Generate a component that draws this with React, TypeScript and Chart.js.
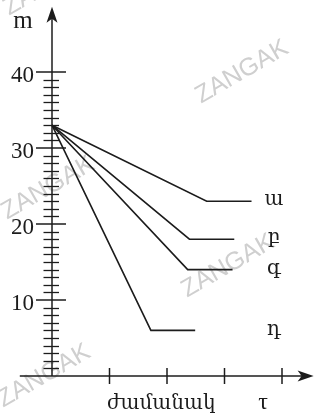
import React, { useEffect, useRef } from "react";
import { Chart, registerables } from "chart.js";

Chart.register(...registerables);

// ---- data ----
const seriesLabels = ["ա", "բ", "գ", "դ"];
const startMass = 33;
const breakTimes = [2.69, 2.39, 2.36, 1.72];
const endTimes = [3.47, 3.17, 3.14, 2.49];
const plateauMass = [23, 18, 14, 6];

const yMajorTicks = [10, 20, 30, 40];
const yMinorTicks = [
  1, 2, 3, 4, 5, 6, 7, 8, 9, 11, 12, 13, 14, 15, 16, 17, 18, 19, 21, 22, 23, 24, 25, 26, 27, 28, 29,
  31, 32, 33, 34, 35, 36, 37, 38, 39,
];
const xTicks = [1, 2, 3, 4];
const yAxisTitle = "m";
const xAxisTitle = "ժամանակ";
const xAxisSymbol = "τ";
const watermarkText = "ZANGAK";

const SERIF = '"Liberation Serif", "DejaVu Serif", serif';
const INK = "#1c1c1c";

export default function App() {
  const ref = useRef<HTMLCanvasElement | null>(null);

  useEffect(() => {
    const canvas = ref.current;
    if (!canvas) return;

    const datasets = seriesLabels.map((lab, i) => ({
      label: lab,
      data: [
        { x: 0, y: startMass },
        { x: breakTimes[i], y: plateauMass[i] },
        { x: endTimes[i], y: plateauMass[i] },
      ],
      borderColor: INK,
      borderWidth: 1.6,
      pointRadius: 0,
      tension: 0,
      fill: false,
    }));

    const decor = {
      id: "decor",
      beforeDraw(chart: any) {
        const ctx = chart.ctx;
        ctx.save();
        ctx.fillStyle = "#ffffff";
        ctx.fillRect(0, 0, chart.width, chart.height);
        // watermarks
        ctx.fillStyle = "#cfcfcf";
        ctx.font = '25px "Liberation Sans", Arial, sans-serif';
        ctx.textAlign = "center";
        ctx.textBaseline = "middle";
        const marks = [
          [50, -16],
          [242, 72],
          [48, 188],
          [228, 266],
          [44, 376],
        ];
        for (const [cx, cy] of marks) {
          ctx.save();
          ctx.translate(cx, cy);
          ctx.rotate(-Math.PI / 6);
          ctx.fillText(watermarkText, 0, 0);
          ctx.restore();
        }
        ctx.restore();
      },
      beforeDatasetsDraw(chart: any) {
        const ctx = chart.ctx;
        const xs = chart.scales.x;
        const ys = chart.scales.y;
        const x0 = xs.getPixelForValue(0);
        const y0 = ys.getPixelForValue(0);
        ctx.save();
        ctx.strokeStyle = INK;
        ctx.fillStyle = INK;
        ctx.lineWidth = 1.5;
        // y axis
        const yTip = ys.getPixelForValue(48.6);
        ctx.beginPath();
        ctx.moveTo(x0, y0);
        ctx.lineTo(x0, yTip + 10);
        ctx.stroke();
        ctx.beginPath();
        ctx.moveTo(x0, yTip);
        ctx.lineTo(x0 - 5.5, yTip + 16);
        ctx.lineTo(x0, yTip + 12);
        ctx.lineTo(x0 + 5.5, yTip + 16);
        ctx.closePath();
        ctx.fill();
        // x axis
        const xStart = xs.getPixelForValue(-0.56);
        const xTip = xs.getPixelForValue(4.55);
        ctx.beginPath();
        ctx.moveTo(xStart, y0);
        ctx.lineTo(xTip - 10, y0);
        ctx.stroke();
        ctx.beginPath();
        ctx.moveTo(xTip, y0);
        ctx.lineTo(xTip - 16, y0 - 5.5);
        ctx.lineTo(xTip - 12, y0);
        ctx.lineTo(xTip - 16, y0 + 5.5);
        ctx.closePath();
        ctx.fill();
        // y ticks
        ctx.lineWidth = 1.3;
        for (const v of yMinorTicks) {
          const p = Math.round(ys.getPixelForValue(v)) + 0.5;
          ctx.beginPath();
          ctx.moveTo(x0 - 8.5, p);
          ctx.lineTo(x0 + 7, p);
          ctx.stroke();
        }
        ctx.lineWidth = 1.5;
        for (const v of yMajorTicks) {
          const p = ys.getPixelForValue(v);
          ctx.beginPath();
          ctx.moveTo(x0 - 16, p);
          ctx.lineTo(x0 + 14, p);
          ctx.stroke();
        }
        // x ticks
        for (const v of xTicks) {
          const p = xs.getPixelForValue(v);
          ctx.beginPath();
          ctx.moveTo(p, y0 - 8);
          ctx.lineTo(p, y0 + 8);
          ctx.stroke();
        }
        // tick labels
        ctx.font = "23px " + SERIF;
        ctx.textAlign = "right";
        ctx.textBaseline = "middle";
        for (const v of yMajorTicks) {
          const p = ys.getPixelForValue(v);
          ctx.fillText(String(v), x0 - 18, p + 4);
        }
        // axis titles
        ctx.textAlign = "center";
        ctx.textBaseline = "alphabetic";
        ctx.font = "25px " + SERIF;
        ctx.fillText(yAxisTitle, x0 - 29, ys.getPixelForValue(45.8));
        ctx.font = "20px " + SERIF;
        ctx.fillText(xAxisTitle, xs.getPixelForValue(1.9), y0 + 33);
        ctx.font = "24px " + SERIF;
        ctx.fillText(xAxisSymbol, xs.getPixelForValue(3.67), y0 + 33);
        ctx.restore();
      },
      afterDatasetsDraw(chart: any) {
        const ctx = chart.ctx;
        const xs = chart.scales.x;
        const ys = chart.scales.y;
        ctx.save();
        ctx.fillStyle = INK;
        ctx.font = "20px " + SERIF;
        ctx.textAlign = "center";
        ctx.textBaseline = "middle";
        chart.data.datasets.forEach((ds: any) => {
          const last = ds.data[ds.data.length - 1];
          ctx.fillText(ds.label, xs.getPixelForValue(3.86), ys.getPixelForValue(last.y) - 1);
        });
        ctx.restore();
      },
    };

    const chart = new Chart(canvas, {
      type: "line",
      data: { datasets },
      options: {
        animation: false,
        responsive: false,
        maintainAspectRatio: false,
        devicePixelRatio: 1,
        layout: { padding: { left: 17.5, right: 6.5, top: 3.6, bottom: 5 } },
        plugins: { legend: { display: false }, tooltip: { enabled: false } },
        scales: {
          x: { type: "linear", min: -0.6, max: 4.6, display: false },
          y: { type: "linear", min: -5, max: 49, display: false },
        },
      },
      plugins: [decor],
    } as any);

    return () => chart.destroy();
  }, []);

  return (
    <div style={{ position: "absolute", left: 0, top: 0, width: 323, height: 419 }}>
      <canvas ref={ref} width={323} height={419} style={{ display: "block" }} />
    </div>
  );
}
